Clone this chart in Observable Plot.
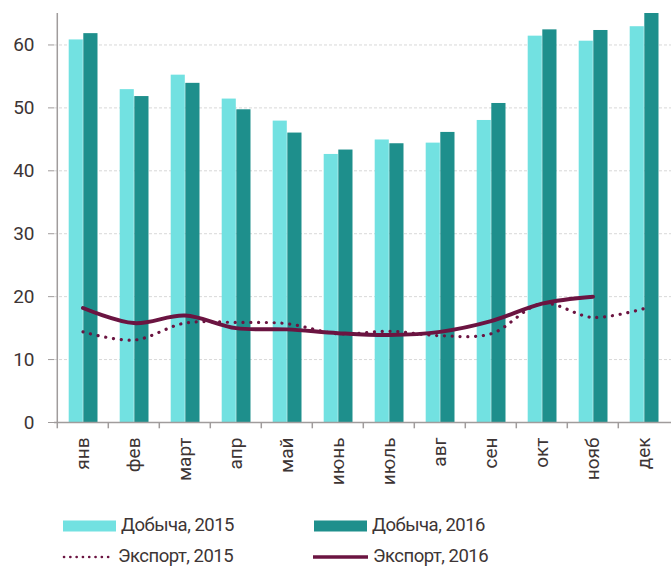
<!DOCTYPE html>
<html><head><meta charset="utf-8">
<script src="https://cdn.jsdelivr.net/npm/d3@7"></script>
<script src="https://cdn.jsdelivr.net/npm/@observablehq/plot@0.6"></script>
<style>
body{margin:0;background:#fff;font-family:Roboto,"DejaVu Sans Condensed",sans-serif;color:#3d3535;}
#wrap{position:relative;width:671px;height:567px;}
.lg{position:absolute;font-size:18.5px;letter-spacing:-0.5px;line-height:22px;white-space:nowrap;}
</style></head>
<body><div id="wrap"></div>
<script>
const months = ["янв","фев","март","апр","май","июнь","июль","авг","сен","окт","нояб","дек"];
const mining2015 = [60.8,52.9,55.2,51.4,47.9,42.6,44.9,44.4,48.0,61.4,60.6,62.9];
const mining2016 = [61.8,51.8,53.9,49.7,46.0,43.3,44.3,46.1,50.7,62.4,62.3,65.0];
const export2015 = [14.4,13.1,15.8,15.9,15.7,14.1,14.5,13.8,14.1,18.9,16.7,18.1];
const export2016 = [18.2,15.8,17.0,15.0,14.8,14.2,13.9,14.4,16.1,18.9,20.0];
const yTicks = [0,10,20,30,40,50,60];
const grid = [10,20,30,40,50,60];

const W = 671, H = 500, ML = 54, MR = 0, MT = 13, MB = 78;
const step = (W - ML - MR) / months.length;
const light = "#72e1e1", dark = "#1e8f8c", maroon = "#6b1441", axisCol = "#a09c9c", txt = "#3d3535";
const FONT = 'Roboto,"DejaVu Sans Condensed",sans-serif';

const bars15 = months.map((m,i)=>({month:m, v:mining2015[i]}));
const bars16 = months.map((m,i)=>({month:m, v:mining2016[i]}));
const ex15 = months.map((m,i)=>({month:m, v:export2015[i]}));
const ex16 = export2016.map((v,i)=>({month:months[i], v}));

const chart = Plot.plot({
  width: W, height: H, marginLeft: ML, marginRight: MR, marginTop: MT, marginBottom: MB,
  style: {fontFamily: FONT, color: txt, background: "#fff", overflow: "visible"},
  x: {domain: months, padding: 0},
  y: {domain: [0, 65]},
  marks: [
    Plot.ruleY(grid, {stroke: "#d8d8d8", strokeDasharray: "3 2", strokeWidth: 1}),
    Plot.barY(bars15, {x: "month", y: "v", fill: light, insetLeft: 11.7, insetRight: 25.2}),
    Plot.barY(bars16, {x: "month", y: "v", fill: dark, insetLeft: 26.3, insetRight: 10.5}),
    Plot.line(ex15, {x: "month", y: "v", stroke: maroon, strokeWidth: 3.2, strokeDasharray: "0.1 7.7", strokeLinecap: "round", curve: "catmull-rom"}),
    Plot.line(ex16, {x: "month", y: "v", stroke: maroon, strokeWidth: 4, curve: "catmull-rom"}),
    Plot.ruleY([0], {stroke: axisCol, strokeWidth: 1.5}),
    Plot.ruleX([months[0]], {x: d => d, dx: -step/2, y1: 0, y2: 65, stroke: axisCol, strokeWidth: 1.5}),
    Plot.ruleX(months, {x: d => d, dx: -step/2, y1: 0, y2: -1, stroke: axisCol, strokeWidth: 1.5}),
    Plot.axisY({ticks: yTicks, tickSize: 6, tickPadding: 14, stroke: axisCol, fontSize: 19, fill: txt, label: null}),
    Plot.axisX({tickSize: 0, tickPadding: 15, tickRotate: -90, fontSize: 19, fill: txt, label: null})
  ]
});
const wrap = document.getElementById("wrap");
wrap.appendChild(chart);

const legend = [
  {label: "Добыча, 2015", kind: "bar", color: light, x: 63, y: 526, w: 53},
  {label: "Добыча, 2016", kind: "bar", color: dark, x: 314, y: 526, w: 53},
  {label: "Экспорт, 2015", kind: "dot", color: maroon, x: 63, y: 557, w: 50},
  {label: "Экспорт, 2016", kind: "line", color: maroon, x: 313, y: 557, w: 55}
];
for (const it of legend) {
  const s = document.createElementNS("http://www.w3.org/2000/svg", "svg");
  s.setAttribute("width", it.w + 4); s.setAttribute("height", 14);
  s.style.position = "absolute"; s.style.left = (it.x - 2) + "px"; s.style.top = (it.y - 7) + "px";
  if (it.kind === "bar") {
    s.innerHTML = `<rect x="2" y="1.5" width="${it.w}" height="11" fill="${it.color}"/>`;
  } else if (it.kind === "dot") {
    s.innerHTML = `<line x1="3" x2="${it.w+1}" y1="7" y2="7" stroke="${it.color}" stroke-width="2.6" stroke-dasharray="0.1 6.2" stroke-linecap="round"/>`;
  } else {
    s.innerHTML = `<line x1="2" x2="${it.w+2}" y1="7" y2="7" stroke="${it.color}" stroke-width="3.5"/>`;
  }
  wrap.appendChild(s);
  const d = document.createElement("div");
  d.className = "lg"; d.textContent = it.label;
  d.style.left = (it.x + it.w + 5) + "px"; d.style.top = (it.y - 12) + "px";
  wrap.appendChild(d);
}
</script></body></html>
